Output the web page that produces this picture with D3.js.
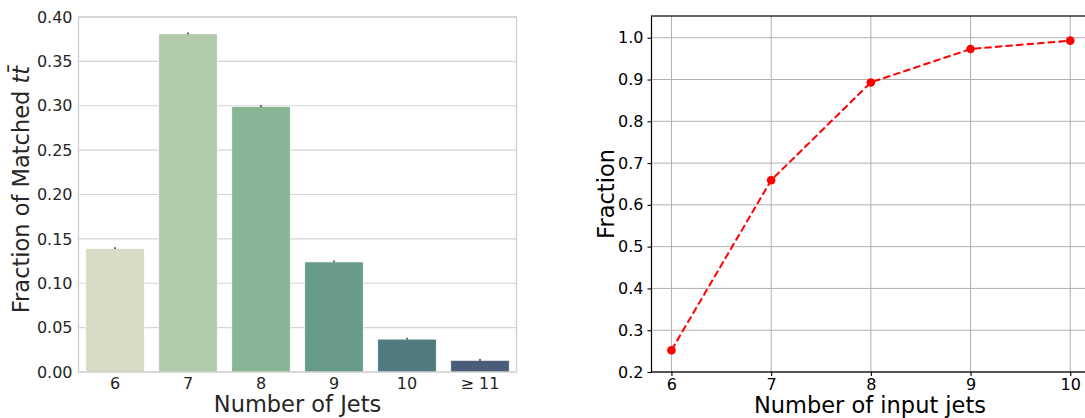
<!DOCTYPE html>
<html><head><meta charset="utf-8">
<script src="https://cdn.jsdelivr.net/npm/d3@7"></script>
<style>body{margin:0;background:#fff}svg{display:block}text{font-family:"DejaVu Sans",sans-serif}</style>
</head><body>
<svg id="c" width="1085" height="418"></svg>
<script>
// Left chart data
const jetCategories = ["6","7","8","9","10","\u2265 11"];
const matchedFraction = [0.139, 0.381, 0.299, 0.124, 0.037, 0.013];
const matchedError = [0.001, 0.001, 0.001, 0.001, 0.001, 0.001];
const barColors = ["#d6dcc5","#b1caa9","#88b594","#689b8c","#507b7f","#4a5e7a"];
const leftYTicks = [0, 0.05, 0.10, 0.15, 0.20, 0.25, 0.30, 0.35, 0.40];
// Right chart data
const inputJets = [6, 7, 8, 9, 10];
const fractionValues = [0.252, 0.659, 0.893, 0.973, 0.993];
const rightYTicks = [0.2, 0.3, 0.4, 0.5, 0.6, 0.7, 0.8, 0.9, 1.0];

const svg = d3.select("#c");

// ---------- Left chart ----------
(function(){
  const L = 78.5, R = 516.5, T = 17, B = 372;
  const x = d3.scaleBand().domain(jetCategories).range([L, R]).paddingInner(0.2).paddingOuter(0.1);
  const y = d3.scaleLinear().domain([0, 0.40]).range([B, T]);
  const g = svg.append("g");
  g.selectAll("line.grid").data(leftYTicks).join("line")
    .attr("x1", L).attr("x2", R).attr("y1", d => y(d)).attr("y2", d => y(d))
    .attr("stroke", "#d5d5d5").attr("stroke-width", 1.2);
  g.selectAll("rect.bar").data(matchedFraction).join("rect")
    .attr("x", (d,i) => x(jetCategories[i])).attr("width", x.bandwidth())
    .attr("y", d => y(d)).attr("height", d => B - y(d))
    .attr("fill", (d,i) => barColors[i]).attr("stroke", "#ffffff").attr("stroke-width", 0.6);
  g.selectAll("line.err").data(matchedFraction).join("line")
    .attr("x1", (d,i) => x(jetCategories[i]) + x.bandwidth()/2)
    .attr("x2", (d,i) => x(jetCategories[i]) + x.bandwidth()/2)
    .attr("y1", (d,i) => y(d + matchedError[i]) - 0.5)
    .attr("y2", (d,i) => y(d - matchedError[i]) - 0.5)
    .attr("stroke", "#3c3c3c").attr("stroke-width", 1.6);
  g.append("rect").attr("x", L).attr("y", T).attr("width", R-L).attr("height", B-T)
    .attr("fill", "none").attr("stroke", "#cccccc").attr("stroke-width", 1.25);
  const ya = d3.axisLeft(y).tickValues(leftYTicks).tickFormat(d3.format(".2f")).tickSize(0).tickPadding(6);
  const yg = g.append("g").attr("transform", `translate(${L},0)`).call(ya);
  yg.select(".domain").remove();
  yg.selectAll("text").attr("font-size", 16).attr("fill", "#262626").attr("font-family", "DejaVu Sans");
  const xa = d3.axisBottom(x).tickSize(0).tickPadding(6);
  const xg = g.append("g").attr("transform", `translate(0,${B})`).call(xa);
  xg.select(".domain").remove();
  xg.selectAll("text").attr("font-size", 16).attr("fill", "#262626").attr("font-family", "DejaVu Sans");
  g.append("text").attr("x", (L+R)/2).attr("y", 412).attr("text-anchor", "middle")
    .attr("font-size", 22.5).attr("fill", "#262626").text("Number of Jets");
  const yl = g.append("text").attr("transform", `translate(29,${(T+B)/2 - 5}) rotate(-90)`)
    .attr("text-anchor", "middle").attr("font-size", 22.5).attr("fill", "#262626");
  yl.append("tspan").text("Fraction of Matched ");
  yl.append("tspan").attr("font-style", "italic").text("t\u0074\u0304");
})();

// ---------- Right chart ----------
(function(){
  const L = 651.5, T = 16, B = 372;
  const x = d3.scaleLinear().domain([5.8, 10.2]).range([L, L + 4.4*99.7]);
  const y = d3.scaleLinear().domain([0.2, 1.052]).range([B, T]);
  const R = x(10.2);
  const g = svg.append("g");
  g.selectAll("line.gy").data(rightYTicks).join("line")
    .attr("x1", L).attr("x2", R).attr("y1", d => y(d)).attr("y2", d => y(d))
    .attr("stroke", "#b0b0b0").attr("stroke-width", 1);
  g.selectAll("line.gx").data(inputJets).join("line")
    .attr("x1", d => x(d)).attr("x2", d => x(d)).attr("y1", T).attr("y2", B)
    .attr("stroke", "#b0b0b0").attr("stroke-width", 1);
  g.append("rect").attr("x", L).attr("y", T).attr("width", R-L).attr("height", B-T)
    .attr("fill", "none").attr("stroke", "#000").attr("stroke-width", 1.2);
  const ya = d3.axisLeft(y).tickValues(rightYTicks).tickFormat(d3.format(".1f")).tickSize(4).tickPadding(4);
  const yg = g.append("g").attr("transform", `translate(${L},0)`).call(ya);
  yg.select(".domain").remove();
  yg.selectAll("line").attr("stroke", "#000").attr("stroke-width", 1.1);
  yg.selectAll("text").attr("font-size", 16).attr("fill", "#000").attr("font-family", "DejaVu Sans");
  const xa = d3.axisBottom(x).tickValues(inputJets).tickFormat(d3.format("d")).tickSize(4).tickPadding(3);
  const xg = g.append("g").attr("transform", `translate(0,${B})`).call(xa);
  xg.select(".domain").remove();
  xg.selectAll("line").attr("stroke", "#000").attr("stroke-width", 1.1);
  xg.selectAll("text").attr("font-size", 16).attr("fill", "#000").attr("font-family", "DejaVu Sans");
  const line = d3.line().x((d,i) => x(inputJets[i])).y(d => y(d));
  g.append("path").datum(fractionValues).attr("d", line)
    .attr("fill", "none").attr("stroke", "#ff0000").attr("stroke-width", 2)
    .attr("stroke-dasharray", "7.4,3.2");
  g.selectAll("circle").data(fractionValues).join("circle")
    .attr("cx", (d,i) => x(inputJets[i])).attr("cy", d => y(d)).attr("r", 4.3)
    .attr("fill", "#ff0000");
  g.append("text").attr("x", 870).attr("y", 413).attr("text-anchor", "middle")
    .attr("font-size", 22.5).attr("fill", "#000").text("Number of input jets");
  g.append("text").attr("transform", `translate(614,${(T+B)/2}) rotate(-90)`)
    .attr("text-anchor", "middle").attr("font-size", 22.5).attr("fill", "#000").text("Fraction");
})();
</script>
</body></html>
